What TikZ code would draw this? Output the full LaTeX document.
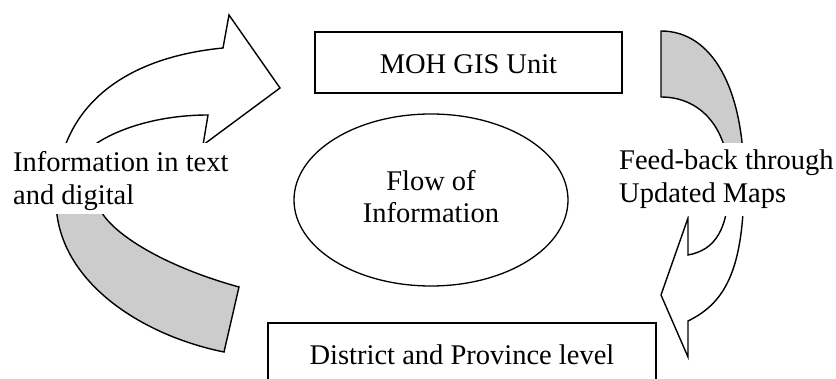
\documentclass[tikz,border=0pt]{standalone}
\usepackage{fontspec}
\setmainfont{Liberation Serif}
\usetikzlibrary{shapes.geometric}
\definecolor{backshade}{RGB}{204,204,204}
\begin{document}
\begin{tikzpicture}[x=1pt,y=-1pt,
  every node/.style={font=\fontsize{28.5}{32.5}\selectfont},
  outline/.style={draw=black, line width=1.4pt, line join=miter},
  frontface/.style={outline, fill=white},
  backface/.style={outline, fill=backshade},
  levelbox/.style={draw=black, line width=1.6pt, inner sep=0pt, anchor=north, text height=42pt},
  labeltext/.style={fill=white, inner ysep=0pt, align=left, anchor=north west}]

\useasboundingbox (0,0) rectangle (836,379);
\clip (0,0) rectangle (836,379);

% left curved arrow: light front face on top, shaded back face below
\path[frontface] (56,200) .. controls (56,110) and (120,58) .. (223,48)
  -- (229,15) -- (280,88) -- (203,145) -- (208,115)
  .. controls (160,115) and (120,128) .. (97,143) -- (95,185) -- cycle;
\path[backface] (56,200) .. controls (56,280) and (140,335) .. (224,352)
  -- (239,287) .. controls (170,268) and (118,238) .. (102,213) -- (95,185) -- cycle;

% right curved arrow: shaded back face on top, light front face with head below
\path[backface] (661,31) .. controls (712,31) and (744,88) .. (744,180)
  -- (729,180) .. controls (729,130) and (702,97) .. (661,97) -- cycle;
\path[frontface] (744,180) .. controls (744,270) and (725,303) .. (688,321)
  -- (688,357) -- (661,295) -- (688,218) -- (688,255)
  .. controls (715,250) and (729,230) .. (729,180) -- cycle;

% arrow labels on white text boxes
\node[labeltext, inner xsep=8pt] (infolabel) at (5,143)
  {\rule{0pt}{28.5pt}Information in text\\and digital\rule[-10pt]{0pt}{10pt}};
\node[labeltext, inner xsep=7pt] (feedlabel) at (612,143)
  {\rule{0pt}{26.5pt}Feed-back through\\Updated Maps\rule[-14pt]{0pt}{14pt}};

% levels
\node[levelbox, minimum width=307pt, text depth=19pt] (moh) at (468.5,31) {MOH GIS Unit};
\node[levelbox, minimum width=388pt, text depth=60pt] (district) at (462,322) {District and Province level};

% centre
\node[ellipse, draw=black, line width=1.3pt, minimum width=274pt, minimum height=172pt,
  inner sep=0pt, align=center] (flow) at (431,200) {Flow of\strut\\Information\strut};
\end{tikzpicture}
\end{document}
